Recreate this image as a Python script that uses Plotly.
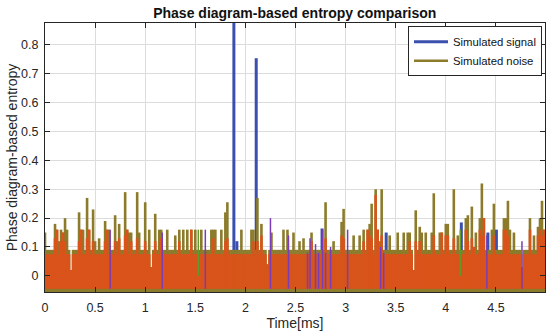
import plotly.graph_objects as go

# ---------------- data ----------------
dt = 0.02  # ms between noise samples

# Simulated noise: visible top of the olive trace, one value per sample
noise_top = [
    0.15, 0.09, 0.09, 0.09, 0.09, 0.18, 0.16, 0.12, 0.16, 0.15,
    0.20, 0.16, 0.09, 0.02, 0.09, 0.09, 0.09, 0.22, 0.16, 0.16,
    0.09, 0.27, 0.16, 0.09, 0.23, 0.12, 0.09, 0.13, 0.09, 0.09,
    0.19, 0.16, 0.16, 0.09, 0.09, 0.21, 0.12, 0.18, 0.09, 0.09,
    0.29, 0.16, 0.15, 0.15, 0.09, 0.09, 0.29, 0.15, 0.09, 0.09,
    0.255, 0.09, 0.16, 0.03, 0.09, 0.215, 0.09, 0.16, 0.16, 0.09,
    0.09, 0.16, 0.09, 0.09, 0.09, 0.14, 0.09, 0.16, 0.09, 0.16,
    0.09, 0.16, 0.09, 0.16, 0.09, 0.16, 0.09, 0.09, 0.16, 0.09,
    0.09, 0.09, 0.09, 0.16, 0.16, 0.16, 0.09, 0.09, 0.16, 0.09,
    0.22, 0.255, 0.09, 0.09, 0.09, 0.09, 0.09, 0.09, 0.16, 0.09,
    0.09, 0.09, 0.09, 0.16, 0.16, 0.09, 0.27, 0.09, 0.18, 0.09,
    0.09, 0.04, 0.09, 0.15, 0.09, 0.09, 0.09, 0.09, 0.09, 0.16,
    0.09, 0.16, 0.09, 0.09, 0.15, 0.09, 0.09, 0.12, 0.09, 0.13,
    0.09, 0.09, 0.09, 0.15, 0.09, 0.09, 0.09, 0.09, 0.09, 0.09,
    0.255, 0.09, 0.09, 0.09, 0.12, 0.09, 0.09, 0.09, 0.187, 0.232,
    0.09, 0.09, 0.09, 0.09, 0.14, 0.09, 0.09, 0.14, 0.09, 0.16,
    0.09, 0.16, 0.18, 0.25, 0.09, 0.30, 0.16, 0.12, 0.30, 0.09,
    0.09, 0.09, 0.14, 0.09, 0.09, 0.09, 0.15, 0.09, 0.09, 0.15,
    0.09, 0.15, 0.15, 0.09, 0.02, 0.227, 0.09, 0.17, 0.15, 0.09,
    0.15, 0.09, 0.09, 0.15, 0.286, 0.09, 0.09, 0.15, 0.15, 0.09,
    0.18, 0.18, 0.09, 0.09, 0.30, 0.09, 0.14, 0.09, 0.09, 0.09,
    0.20, 0.21, 0.09, 0.24, 0.09, 0.15, 0.09, 0.20, 0.32, 0.20,
    0.09, 0.09, 0.09, 0.16, 0.25, 0.09, 0.09, 0.09, 0.09, 0.20,
    0.20, 0.26, 0.16, 0.09, 0.15, 0.09, 0.09, 0.09, 0.03, 0.09,
    0.09, 0.09, 0.20, 0.09, 0.14, 0.09, 0.17, 0.20, 0.26, 0.16,
]

# Second noise component (orange), one value per sample
noise_low = [
    0.075, 0.075, 0.075, 0.075, 0.075, 0.13, 0.16, 0.075, 0.12, 0.15,
    0.12, 0.075, 0.075, 0.02, 0.075, 0.075, 0.075, 0.12, 0.16, 0.075,
    0.075, 0.13, 0.16, 0.075, 0.12, 0.075, 0.075, 0.075, 0.075, 0.075,
    0.12, 0.16, 0.075, 0.075, 0.075, 0.12, 0.075, 0.13, 0.075, 0.075,
    0.14, 0.16, 0.075, 0.12, 0.075, 0.075, 0.13, 0.075, 0.075, 0.075,
    0.12, 0.075, 0.075, 0.03, 0.075, 0.12, 0.075, 0.075, 0.13, 0.075,
    0.075, 0.075, 0.075, 0.075, 0.075, 0.075, 0.075, 0.12, 0.075, 0.075,
    0.075, 0.075, 0.075, 0.16, 0.075, 0.075, 0.075, 0.075, 0.075, 0.075,
    0.075, 0.075, 0.075, 0.075, 0.13, 0.075, 0.075, 0.075, 0.075, 0.075,
    0.12, 0.13, 0.075, 0.075, 0.075, 0.075, 0.075, 0.075, 0.075, 0.075,
    0.075, 0.075, 0.075, 0.075, 0.12, 0.075, 0.12, 0.075, 0.14, 0.075,
    0.075, 0.04, 0.075, 0.075, 0.075, 0.075, 0.075, 0.075, 0.075, 0.075,
    0.075, 0.075, 0.075, 0.075, 0.075, 0.075, 0.075, 0.075, 0.075, 0.075,
    0.075, 0.075, 0.075, 0.12, 0.075, 0.075, 0.075, 0.075, 0.075, 0.075,
    0.13, 0.075, 0.075, 0.075, 0.075, 0.075, 0.075, 0.075, 0.14, 0.13,
    0.075, 0.075, 0.075, 0.075, 0.075, 0.075, 0.075, 0.075, 0.075, 0.12,
    0.075, 0.16, 0.14, 0.13, 0.075, 0.28, 0.16, 0.075, 0.14, 0.075,
    0.075, 0.075, 0.075, 0.075, 0.075, 0.075, 0.075, 0.075, 0.075, 0.075,
    0.075, 0.075, 0.12, 0.075, 0.02, 0.12, 0.075, 0.12, 0.075, 0.075,
    0.075, 0.075, 0.075, 0.075, 0.14, 0.075, 0.075, 0.075, 0.15, 0.075,
    0.14, 0.14, 0.075, 0.075, 0.13, 0.075, 0.075, 0.075, 0.075, 0.075,
    0.16, 0.12, 0.075, 0.13, 0.10, 0.075, 0.075, 0.16, 0.14, 0.20,
    0.075, 0.075, 0.075, 0.075, 0.14, 0.075, 0.075, 0.075, 0.075, 0.16,
    0.16, 0.14, 0.075, 0.075, 0.075, 0.075, 0.075, 0.075, 0.03, 0.075,
    0.075, 0.075, 0.16, 0.075, 0.075, 0.075, 0.14, 0.16, 0.14, 0.16,
]

# Simulated signal: visible spikes (time in ms, value)
signal_t = [1.885, 2.108, 1.915, 2.765, 3.405, 4.155, 4.42, 4.505]
signal_v = [0.95, 0.754, 0.12, 0.164, 0.15, 0.185, 0.15, 0.16]

# Other thin components visible in the plot
purple_t = [0.65, 1.17, 1.60, 2.25, 2.43, 2.62, 2.645, 2.70, 2.73, 2.77, 2.80,
            2.85, 3.02, 3.35, 3.38, 4.41, 4.76]
purple_v = [0.16, 0.15, 0.16, 0.20, 0.14, 0.08, 0.13, 0.11, 0.08, 0.16, 0.08,
            0.10, 0.16, 0.10, 0.08, 0.14, 0.12]
green_t = [1.53, 4.145]
green_v = [0.16, 0.16]

x_ticks = [0, 0.5, 1, 1.5, 2, 2.5, 3, 3.5, 4, 4.5]
y_ticks = [0, 0.1, 0.2, 0.3, 0.4, 0.5, 0.6, 0.7, 0.8]

# ---------------- styles ----------------
BLUE = "#3b4fae"
OLIVE = "#8b7b2b"
ORANGE = "#d9531a"
PURPLE = "#7a3cb8"
GREEN = "#5f9a2c"
FONT = "Liberation Sans"


def stems(ts, vs, base):
    xs, ys = [], []
    for t, v in zip(ts, vs):
        xs += [t, t, None]
        ys += [base, v, None]
    return xs, ys


noise_t = [i * dt for i in range(len(noise_top))]

fig = go.Figure()
bx, by = stems(signal_t, signal_v, -0.045)
fig.add_trace(go.Scatter(x=bx, y=by, mode="lines", name="Simulated signal",
                         line=dict(color=BLUE, width=3)))
ox, oy = stems(noise_t, noise_top, -0.06)
fig.add_trace(go.Scatter(x=ox, y=oy, mode="lines", name="Simulated noise",
                         line=dict(color=OLIVE, width=2.6)))
rx, ry = stems(noise_t, noise_low, -0.045)
fig.add_trace(go.Scatter(x=rx, y=ry, mode="lines", showlegend=False,
                         line=dict(color=ORANGE, width=2.6)))
px, py = stems(purple_t, purple_v, -0.045)
fig.add_trace(go.Scatter(x=px, y=py, mode="lines", showlegend=False,
                         line=dict(color=PURPLE, width=1.5)))
gx, gy = stems(green_t, green_v, 0.0)
fig.add_trace(go.Scatter(x=gx, y=gy, mode="lines", showlegend=False,
                         line=dict(color=GREEN, width=1.5)))

axis_common = dict(
    showgrid=True, gridcolor="#dcdcdc", gridwidth=1,
    showline=True, linecolor="#262626", linewidth=1, mirror="ticks",
    ticks="inside", ticklen=5, tickcolor="#262626", automargin=False,
    zeroline=False, tickfont=dict(family=FONT, size=12.5, color="#262626"),
)

fig.update_layout(
    width=550, height=332, autosize=False,
    margin=dict(l=45, r=5, t=23, b=40),
    paper_bgcolor="white", plot_bgcolor="white",
    hovermode=False,
    title=dict(text="<b>Phase diagram-based entropy comparison</b>",
               x=0.536, xanchor="center", y=0.962, yanchor="middle",
               font=dict(family=FONT, size=14, color="#111111")),
    xaxis=dict(range=[0, 4.99], tickvals=x_ticks, ticklabelstandoff=4,
               title=dict(text="Time[ms]", standoff=3,
                          font=dict(family=FONT, size=14, color="#262626")),
               **axis_common),
    yaxis=dict(range=[-0.056, 0.876], tickvals=y_ticks, ticklabelstandoff=3,
               title=dict(text="Phase diagram-based entropy", standoff=0,
                          font=dict(family=FONT, size=14, color="#262626")),
               **axis_common),
    legend=dict(x=0.994, xanchor="right", y=0.988, yanchor="top",
                bgcolor="white", bordercolor="#262626", borderwidth=1,
                font=dict(family=FONT, size=11.3, color="#111111"),
                tracegroupgap=0, itemwidth=34),
    showlegend=True,
)

fig.write_html(
    "out.html",
    config={"displayModeBar": False, "staticPlot": True},
    post_script="document.body.style.margin='0';"
                "document.documentElement.style.overflow='hidden';",
)
